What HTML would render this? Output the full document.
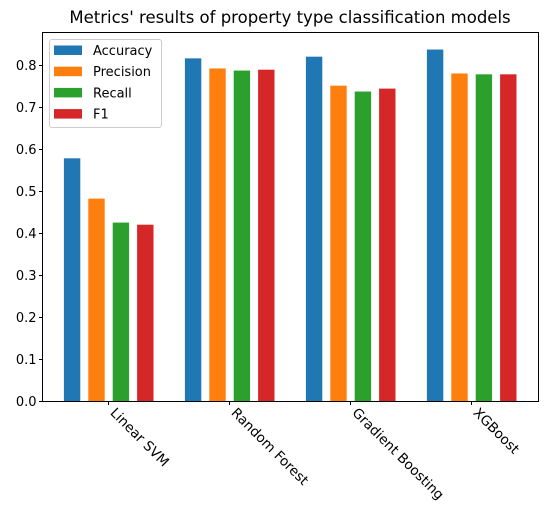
<!DOCTYPE html>
<html><head><meta charset="utf-8"><style>
body{margin:0;background:#fff;width:547px;height:520px;overflow:hidden}
svg{display:block;font-family:"DejaVu Sans","Liberation Sans",sans-serif}
</style></head><body>
<svg id="chart" width="547" height="520"></svg>
<script>
const categories=["Linear SVM","Random Forest","Gradient Boosting","XGBoost"];
const seriesNames=["Accuracy","Precision","Recall","F1"];
const accuracy=[0.579,0.817,0.821,0.838];
const precision=[0.483,0.793,0.752,0.781];
const recall=[0.426,0.788,0.738,0.779];
const f1=[0.421,0.790,0.745,0.779];
const yTicks=[0,0.1,0.2,0.3,0.4,0.5,0.6,0.7,0.8];
const yTickLabels=["0.0","0.1","0.2","0.3","0.4","0.5","0.6","0.7","0.8"];
const series=[accuracy,precision,recall,f1];
const colors=["#1f77b4","#ff7f0e","#2ca02c","#d62728"];
const NS="http://www.w3.org/2000/svg";
const svg=document.getElementById("chart");
const L=42.5,R=538.5,T=32.5,B=401.5;
const yS=v=>B-v*420;
const xS=i=>108.5+i*121;
function el(t,a,p){const e=document.createElementNS(NS,t);for(const k in a)e.setAttribute(k,a[k]);(p||svg).appendChild(e);return e;}
const title=el("text",{x:290,y:23,"text-anchor":"middle","font-size":"16.5",fill:"#000"});
title.textContent="Metrics' results of property type classification models";


series.forEach((s,j)=>{s.forEach((v,i)=>{
 const cx=xS(i)+(j-1.5)*24.4;
 const r=el("rect",{x:cx-8,y:yS(v),width:16.4,height:B-yS(v),fill:colors[j]});
 
 
});});
el("rect",{x:L,y:T,width:R-L,height:B-T,fill:"none",stroke:"#000","stroke-width":1});
yTicks.forEach((v,i)=>{
 const y=yS(v);
 el("line",{x1:L-3.5,x2:L,y1:y,y2:y,stroke:"#000"});
 const t=el("text",{x:L-6,y:y+4.5,"text-anchor":"end","font-size":"13",fill:"#000"});
 t.textContent=yTickLabels[i];
 
 
});
categories.forEach((c,i)=>{
 const x=xS(i);
 el("line",{x1:x,x2:x,y1:B,y2:B+3.5,stroke:"#000"});
 const t=el("text",{x:0,y:0,"font-size":"13.6",fill:"#000",transform:`translate(${x+1},${B+12}) rotate(45)`});
 t.textContent=c;
 
 
});
const lg=el("g",{});


el("rect",{x:49.5,y:39.5,width:112,height:88,rx:2.5,fill:"#fff","fill-opacity":0.8,stroke:"#ccc"},lg);
seriesNames.forEach((n,j)=>{
 const y=50+j*21.2;
 el("rect",{x:54,y:y-4.5,width:28,height:9.5,fill:colors[j]},lg);
 const t=el("text",{x:93,y:y+5,"font-size":"13",fill:"#000"},lg);
 t.textContent=n;
 
 
});
</script>
</body></html>
